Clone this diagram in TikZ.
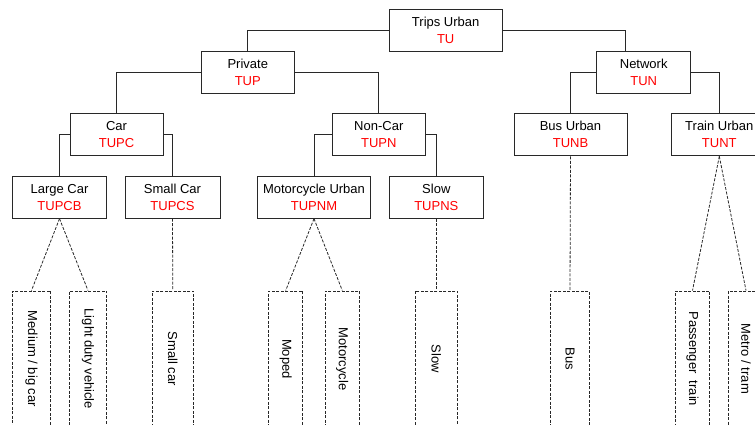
\documentclass[tikz,border=0pt]{standalone}
\usepackage{fontspec}
\setmainfont{Liberation Sans}
\definecolor{lblred}{RGB}{255,0,0}
\definecolor{linegray}{RGB}{40,40,40}
\begin{document}
\begin{tikzpicture}[x=1pt,y=-1pt,
  box/.style={draw=linegray, line width=0.9pt, fill=white, minimum height=42pt,
    inner sep=0pt, align=center, font=\fontsize{13}{17}\selectfont},
  leaf/.style={draw=linegray, line width=0.8pt, dash pattern=on 3pt off 1.5pt,
    anchor=north, minimum height=136pt, inner sep=0pt, font=\fontsize{13}{15}\selectfont},
  solidline/.style={draw=linegray, line width=0.9pt},
  dline/.style={draw=linegray, line width=0.8pt, dash pattern=on 3pt off 1.5pt}
]
\path[use as bounding box, clip] (0,0) rectangle (755,424);

% tree nodes
\node[box, minimum width=112.7pt] (TU)    at (445.7,30.5)  {Trips Urban\\\textcolor{lblred}{TU}};
\node[box, minimum width=93.7pt]  (TUP)   at (247.8,72.3)  {Private\\\textcolor{lblred}{TUP}};
\node[box, minimum width=94pt]    (TUN)   at (643.7,72.3)  {Network\\\textcolor{lblred}{TUN}};
\node[box, minimum width=93pt]    (TUPC)  at (116.5,134.8) {Car\\\textcolor{lblred}{TUPC}};
\node[box, minimum width=93pt]    (TUPN)  at (378.8,134.8) {Non-Car\\\textcolor{lblred}{TUPN}};
\node[box, minimum width=113pt]   (TUNB)  at (570.5,134.8) {Bus Urban\\\textcolor{lblred}{TUNB}};
\node[box, minimum width=95.2pt]  (TUNT)  at (719.3,134.8) {Train Urban\\\textcolor{lblred}{TUNT}};
\node[box, minimum width=93.6pt]  (TUPCB) at (59.5,197.2)  {Large Car\\\textcolor{lblred}{TUPCB}};
\node[box, minimum width=95pt]    (TUPCS) at (172.5,197.2) {Small Car\\\textcolor{lblred}{TUPCS}};
\node[box, minimum width=112.6pt] (TUPNM) at (314,197.2)   {Motorcycle Urban\\\textcolor{lblred}{TUPNM}};
\node[box, minimum width=94pt]    (TUPNS) at (436.3,197.2) {Slow\\\textcolor{lblred}{TUPNS}};

% leaves
\node[leaf, minimum width=38.4pt] (L1) at (31.5,290.5)  {\rotatebox{-90}{Medium / big car}};
\node[leaf, minimum width=37.4pt] (L2) at (88,290.5)    {\rotatebox{-90}{Light duty vehicle}};
\node[leaf, minimum width=41pt]   (L3) at (172.8,290.5) {\rotatebox{-90}{Small car}};
\node[leaf, minimum width=34pt]   (L4) at (285.7,290.5) {\rotatebox{-90}{Moped}};
\node[leaf, minimum width=34pt]   (L5) at (342.3,290.5) {\rotatebox{-90}{Motorcycle}};
\node[leaf, minimum width=42pt]   (L6) at (436.3,290.5) {\rotatebox{-90}{Slow}};
\node[leaf, minimum width=38.6pt] (L7) at (570,290.5)   {\rotatebox{-90}{Bus}};
\node[leaf, minimum width=34.4pt] (L8) at (692.5,290.5) {\rotatebox{-90}{Passenger\ \ train}};
\node[leaf, minimum width=35.4pt] (L9) at (746,290.5)   {\rotatebox{-90}{Metro / tram}};

% solid connectors
\draw[solidline] (TU.west) -| (TUP.north);
\draw[solidline] (TU.east) -| ([xshift=-18.7pt]TUN.north);
\draw[solidline] (TUP.west) -| (TUPC.north);
\draw[solidline] (TUP.east) -| (TUPN.north);
\draw[solidline] (TUN.west) -| (TUNB.north);
\draw[solidline] (TUN.east) -| (TUNT.north);
\draw[solidline] (TUPC.west) -| (TUPCB.north);
\draw[solidline] (TUPC.east) -| (TUPCS.north);
\draw[solidline] (TUPN.west) -| (TUPNM.north);
\draw[solidline] (TUPN.east) -| (TUPNS.north);

% dashed connectors
\draw[dline] (TUPCB.south) -- (L1.north);
\draw[dline] (TUPCB.south) -- (L2.north);
\draw[dline] (TUPCS.south) -- (L3.north);
\draw[dline] (TUPNM.south) -- (L4.north);
\draw[dline] (TUPNM.south) -- (L5.north);
\draw[dline] (TUPNS.south) -- (L6.north);
\draw[dline] (TUNB.south) -- (L7.north);
\draw[dline] (TUNT.south) -- (L8.north);
\draw[dline] (TUNT.south) -- (L9.north);
\end{tikzpicture}
\end{document}
